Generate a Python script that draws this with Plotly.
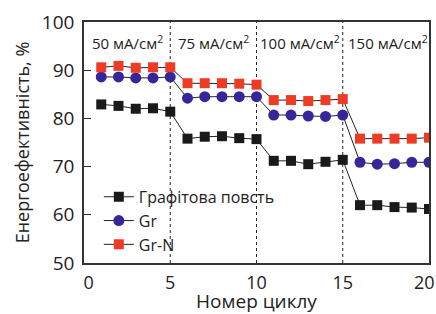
import plotly.graph_objects as go

cycles = list(range(1, 21))
felt = [82.9, 82.6, 82.0, 82.1, 81.4, 75.8, 76.2, 76.3, 75.9, 75.7,
        71.2, 71.2, 70.5, 71.0, 71.4, 62.0, 62.0, 61.6, 61.5, 61.2]
gr = [88.6, 88.6, 88.4, 88.4, 88.6, 84.2, 84.5, 84.5, 84.5, 84.5,
      80.7, 80.7, 80.5, 80.4, 80.7, 70.9, 70.5, 70.6, 70.9, 70.9]
grn = [90.6, 90.9, 90.5, 90.6, 90.6, 87.3, 87.3, 87.3, 87.2, 87.0,
       83.8, 83.8, 83.6, 83.8, 84.0, 75.8, 75.8, 75.8, 75.8, 76.0]
names = ["Графітова повсть", "Gr", "Gr-N"]
current_labels = ["50 мА/см<sup>2</sup>", "75 мА/см<sup>2</sup>",
                  "100 мА/см<sup>2</sup>", "150 мА/см<sup>2</sup>"]
label_x = [2.5, 7.5, 12.5, 17.6]
dividers = [5, 10, 15]
x_tickvals = [0, 5, 10, 15, 20]
x_ticktext = ["\u00a0\u00a00", "5", "10", "15", "20\u00a0\u00a0"]
y_tickvals = [50, 60, 70, 80, 90, 100]

FONT = "Open Sans"
fig = go.Figure()
styles = [
    (felt, "square", "#1a1a1a", 10),
    (gr, "circle", "#35279a", 11),
    (grn, "square", "#ee3b24", 10),
]
for (vals, sym, col, sz), nm in zip(styles, names):
    fig.add_trace(go.Scatter(
        x=cycles, y=vals, name=nm, mode="lines+markers",
        line=dict(color="#222222", width=1),
        marker=dict(symbol=sym, color=col, size=sz, line=dict(width=0)),
    ))

for d in dividers:
    fig.add_shape(type="line", x0=d, x1=d, y0=50, y1=100, xref="x", yref="y",
                  line=dict(color="#222222", width=1, dash="dot"), layer="below")

for lx, txt in zip(label_x, current_labels):
    fig.add_annotation(x=lx, y=95.8, text=txt, showarrow=False,
                       font=dict(family=FONT, size=15, color="#222222"))

fig.update_layout(
    width=436, height=314,
    margin=dict(l=84, r=7, t=22, b=51),
    paper_bgcolor="white", plot_bgcolor="white",
    font=dict(family=FONT, color="#222222"),
    showlegend=True,
    legend=dict(x=0.043, y=0.345, xanchor="left", yanchor="top",
                bgcolor="rgba(0,0,0,0)", font=dict(size=16, family=FONT),
                itemwidth=30, tracegroupgap=0),
)
fig.update_xaxes(range=[0, 20], tickvals=x_tickvals, ticktext=x_ticktext, ticks="",
                 showgrid=False, zeroline=False, showline=True, mirror=True,
                 linecolor="#333333", linewidth=1.5, automargin=False,
                 ticklabeloverflow="allow", ticklabelstandoff=3,
                 tickfont=dict(size=18, family=FONT),
                 title=dict(text="Номер циклу", font=dict(size=19, family=FONT), standoff=0))
fig.update_yaxes(range=[50, 100], tickvals=y_tickvals, ticks="inside",
                 ticklen=7, tickcolor="#333333", automargin=False,
                 ticklabelstandoff=4,
                 showgrid=False, zeroline=False, showline=True, mirror=True,
                 linecolor="#333333", linewidth=1.5,
                 tickfont=dict(size=19, family=FONT),
                 title=dict(text="Енергоефективність, %", font=dict(size=18, family=FONT), standoff=8))

fig.write_html("out.html", config={"displayModeBar": False},
               post_script="document.body.style.margin='0';")
